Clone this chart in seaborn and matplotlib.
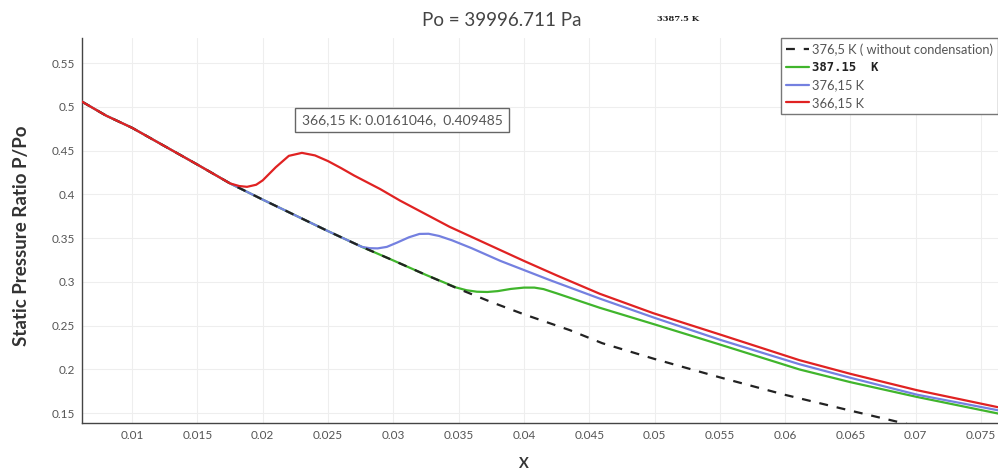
import pandas as pd
import matplotlib.pyplot as plt
import seaborn as sns

# --- data ---
dashed_x = [0.00615, 0.0080, 0.0100, 0.0125, 0.0150, 0.0175, 0.0200, 0.0225, 0.0250, 0.0276, 0.0300,
            0.0325, 0.0350, 0.0375, 0.0400, 0.0435, 0.0460, 0.0500, 0.0550, 0.0600, 0.0650, 0.0715]
dashed_y = [0.506, 0.490, 0.476, 0.455, 0.434, 0.4125, 0.394, 0.376, 0.358, 0.340, 0.3245,
            0.308, 0.292, 0.277, 0.263, 0.245, 0.230, 0.212, 0.191, 0.171, 0.153, 0.130]

green_x = [0.00615, 0.0080, 0.0100, 0.0125, 0.0150, 0.0175, 0.0200, 0.0225, 0.0250, 0.0276, 0.0300,
           0.0325, 0.0348, 0.0356, 0.0364, 0.0372, 0.0380, 0.0390, 0.0400, 0.0408, 0.0415, 0.0425,
           0.0440, 0.0458, 0.0500, 0.0550, 0.0611, 0.0650, 0.0701, 0.0763]
green_y = [0.506, 0.490, 0.476, 0.455, 0.434, 0.4125, 0.394, 0.376, 0.358, 0.340, 0.3245,
           0.308, 0.2937, 0.2905, 0.2888, 0.2885, 0.2895, 0.2920, 0.2935, 0.2935, 0.2918, 0.2870,
           0.2795, 0.2705, 0.2515, 0.2285, 0.2000, 0.1855, 0.1686, 0.1497]

blue_x = [0.00615, 0.0080, 0.0100, 0.0125, 0.0150, 0.0175, 0.0200, 0.0225, 0.0250, 0.0276, 0.0282,
          0.0288, 0.0295, 0.0303, 0.0312, 0.0320, 0.0327, 0.0335, 0.0345, 0.0360, 0.0382, 0.0420,
          0.0458, 0.0500, 0.0550, 0.0611, 0.0650, 0.0701, 0.0763]
blue_y = [0.506, 0.490, 0.476, 0.455, 0.434, 0.4125, 0.394, 0.376, 0.358, 0.340, 0.3385,
          0.3383, 0.3400, 0.3450, 0.3510, 0.3548, 0.3550, 0.3525, 0.3475, 0.3385, 0.3240, 0.3020,
          0.2810, 0.2590, 0.2340, 0.2060, 0.1905, 0.1712, 0.1534]

red_x = [0.00615, 0.0080, 0.0100, 0.0125, 0.0150, 0.0175, 0.0182, 0.0188, 0.0195, 0.0200, 0.0210,
         0.0220, 0.0230, 0.0240, 0.0250, 0.0260, 0.0270, 0.0290, 0.0305, 0.0343, 0.0400, 0.0425,
         0.0458, 0.0499, 0.0550, 0.0611, 0.0650, 0.0701, 0.0763]
red_y = [0.506, 0.490, 0.476, 0.455, 0.434, 0.4125, 0.4095, 0.4086, 0.4110, 0.4160, 0.4310,
         0.4440, 0.4474, 0.4445, 0.4380, 0.4300, 0.4215, 0.4060, 0.3930, 0.3630, 0.3240, 0.3075,
         0.2865, 0.2643, 0.2400, 0.2106, 0.1950, 0.1763, 0.1569]

labels = ["376,5 K ( without condensation)", "387.15  K", "376,15 K", "366,15 K"]
x_ticks = [0.01, 0.015, 0.02, 0.025, 0.03, 0.035, 0.04, 0.045, 0.05, 0.055, 0.06, 0.065, 0.07, 0.075]
y_ticks = [0.15, 0.2, 0.25, 0.3, 0.35, 0.4, 0.45, 0.5, 0.55]

# --- plot ---
sns.set_style("whitegrid")
plt.rcParams['font.family'] = ['Lato', 'DejaVu Sans']

fig = plt.figure(figsize=(9.98, 4.75), dpi=100)
ax = fig.add_axes([0.082, 0.109, 0.918, 0.811])

# drawing order: green, blue, dashed, red on top
series = [
    (green_x, green_y, '#40b52c', '-', 2, labels[1]),
    (blue_x, blue_y, '#7480e0', '-', 3, labels[2]),
    (dashed_x, dashed_y, '#222222', (0, (4, 4)), 4, labels[0]),
    (red_x, red_y, '#e02222', '-', 5, labels[3]),
]
lines = {}
for xs, ys, col, ls, z, lab in series:
    d = pd.DataFrame({'x': xs, 'y': ys})
    sns.lineplot(data=d, x='x', y='y', ax=ax, color=col, linestyle=ls, lw=1.6, zorder=z,
                 estimator=None, sort=False)
    lines[lab] = ax.lines[-1]

ax.set_xlim(0.00615, 0.0763)
ax.set_ylim(0.1386, 0.5786)
ax.set_xticks(x_ticks)
ax.set_xticklabels([f"{t:g}" for t in x_ticks])
ax.set_yticks(y_ticks)
ax.set_yticklabels([f"{t:g}" for t in y_ticks])
ax.set_xlabel("")
ax.set_ylabel("")
ax.grid(True, color='#eeeeee', lw=0.8)
for s in ['top', 'right']:
    ax.spines[s].set_visible(False)
for s in ['left', 'bottom']:
    ax.spines[s].set_color('#444444')
    ax.spines[s].set_linewidth(1.0)
ax.tick_params(direction='out', length=3, width=0.8, color='#444444',
               labelsize=8.5, labelcolor='#555555', pad=2)

leg = ax.legend([lines[l] for l in labels], labels, loc='upper right', bbox_to_anchor=(1.0, 1.0),
                borderaxespad=0, fontsize=9.3, frameon=True, fancybox=False, framealpha=1,
                edgecolor='#777777', handlelength=1.8, labelspacing=0.42, handletextpad=0.2,
                borderpad=0.4)
leg.get_frame().set_linewidth(1.0)
for t in leg.get_texts():
    t.set_color('#555555')
leg.get_texts()[1].set_fontfamily('DejaVu Sans Mono')
leg.get_texts()[1].set_fontweight('bold')
leg.get_texts()[1].set_fontsize(8.8)
leg.get_texts()[1].set_color('#222222')

fig.text(502 / 998, 1 - 20 / 475, "Po = 39996.711 Pa", ha='center', va='center', fontsize=13.5, color='#444444')
fig.text(678 / 998, 1 - 19 / 475, "3387.5 K", ha='center', va='center', fontsize=6,
         family='DejaVu Serif', weight='bold', color='#222222')
fig.text(402 / 998, 1 - 120 / 475, "366,15 K: 0.0161046,  0.409485", ha='center', va='center',
         fontsize=10, color='#555555',
         bbox=dict(boxstyle='square,pad=0.45', fc='white', ec='#666666', lw=1.0))
fig.text(22 / 998, 1 - 236 / 475, "Static Pressure Ratio P/Po", rotation=90, ha='center', va='center',
         fontsize=13.5, weight='bold', color='#333333')
fig.text(524 / 998, 1 - 464 / 475, "X", ha='center', va='center', fontsize=10.5, weight='bold', color='#333333')

plt.savefig("out.png", dpi=100)
